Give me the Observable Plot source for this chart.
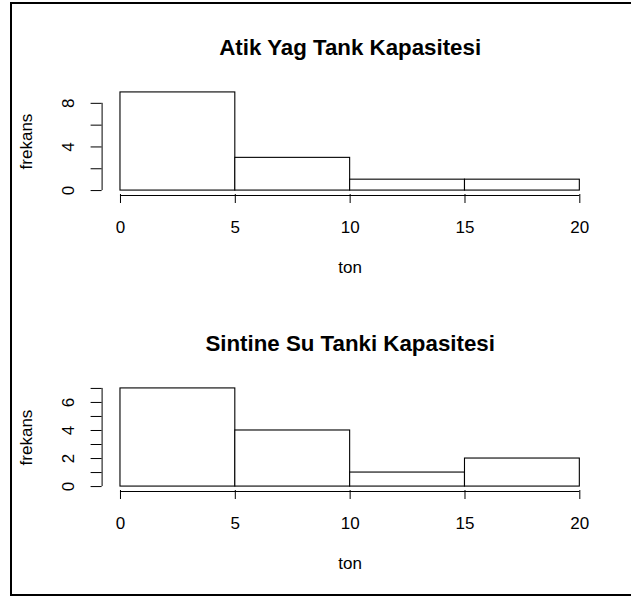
<!DOCTYPE html>
<html>
<head>
<meta charset="utf-8">
<script src="https://cdn.jsdelivr.net/npm/d3@7"></script>
<script src="https://cdn.jsdelivr.net/npm/@observablehq/plot@0.6"></script>
<style>
  html, body { margin: 0; padding: 0; background: #fff; }
  #page { position: relative; width: 631px; height: 599px; overflow: hidden; background: #fff;
          font-family: "Liberation Sans", Arial, sans-serif; }
  #page svg { position: absolute; left: 0; }
  #frame { position: absolute; left: 10px; top: 2px; width: 640px; height: 590px;
           border: 2px solid #000; pointer-events: none; }
</style>
</head>
<body>
<div id="page"></div>
<script>
// Histogram bin edges (tons) and counts per bin
const breaks = [0, 5, 10, 15, 20];
const oilCounts = [9, 3, 1, 1];
const bilgeCounts = [7, 4, 1, 2];

const oilTitle = "Atik Yag Tank Kapasitesi";
const bilgeTitle = "Sintine Su Tanki Kapasitesi";
const xLabel = "ton";
const yLabel = "frekans";

const xTicks = [0, 5, 10, 15, 20];
const oilYTicks = [0, 2, 4, 6, 8];
const oilYLabels = [0, 4, 8];
const bilgeYTicks = [0, 1, 2, 3, 4, 5, 6, 7];
const bilgeYLabels = [0, 2, 4, 6];

const FONT = "'Liberation Sans', Arial, sans-serif";
const LABEL = {fontSize: 17, textAnchor: "middle", lineAnchor: "middle", fill: "#000"};

// One base-R style histogram panel: axes padded by 4% of the data range
function panel(counts, yTicks, yLabels, title) {
  const bins = counts.map((n, i) => ({x1: breaks[i], x2: breaks[i + 1], n}));
  const xMin = breaks[0], xMax = breaks[breaks.length - 1];
  const xPad = 0.04 * (xMax - xMin);
  const yMax = d3.max(counts);
  const yPad = 0.04 * yMax;
  const xLo = xMin - xPad, xHi = xMax + xPad;
  const yLo = -yPad, yHi = yMax + yPad;

  return Plot.plot({
    width: 631,
    height: 296,
    marginLeft: 101.6,
    marginRight: 33.3,
    marginTop: 88,
    marginBottom: 102,
    x: {domain: [xLo, xHi], ticks: xTicks, tickSize: 9, tickFormat: () => "", label: null},
    y: {domain: [yLo, yHi], ticks: yTicks, tickSize: 11, tickFormat: () => "", label: null},
    style: {background: "transparent", color: "#000", fontFamily: FONT, fontSize: "17px", overflow: "visible"},
    marks: [
      Plot.rectY(bins, {x1: "x1", x2: "x2", y: "n", fill: "white", stroke: "#000", strokeWidth: 1.1}),
      // x axis line from first to last tick, with tick labels
      Plot.ruleY([yLo], {x1: xTicks[0], x2: xTicks[xTicks.length - 1], stroke: "#000", dy: 1}),
      Plot.text(xTicks, {...LABEL, x: d => d, text: d => String(d), frameAnchor: "bottom", dy: 32.6}),
      // y axis line from first to last tick, with rotated labels
      Plot.ruleX([xLo], {y1: yTicks[0], y2: yTicks[yTicks.length - 1], stroke: "#000"}),
      Plot.text(yLabels, {...LABEL, y: d => d, text: d => String(d), frameAnchor: "left", dx: -33.6, rotate: -90}),
      // axis titles and main title
      Plot.text([xLabel], {...LABEL, text: d => d, frameAnchor: "bottom", dy: 73.2}),
      Plot.text([yLabel], {...LABEL, text: d => d, frameAnchor: "left", dx: -75.8, rotate: -90}),
      Plot.text([title], {...LABEL, text: d => d, frameAnchor: "top", dy: -40.4, fontWeight: "bold", fontSize: 22.3})
    ]
  });
}

const page = document.getElementById("page");
const p1 = panel(oilCounts, oilYTicks, oilYLabels, oilTitle);
p1.style.top = "0px";
const p2 = panel(bilgeCounts, bilgeYTicks, bilgeYLabels, bilgeTitle);
p2.style.top = "296px";
page.appendChild(p1);
page.appendChild(p2);
const frame = document.createElement("div");
frame.id = "frame";
page.appendChild(frame);
</script>
</body>
</html>
